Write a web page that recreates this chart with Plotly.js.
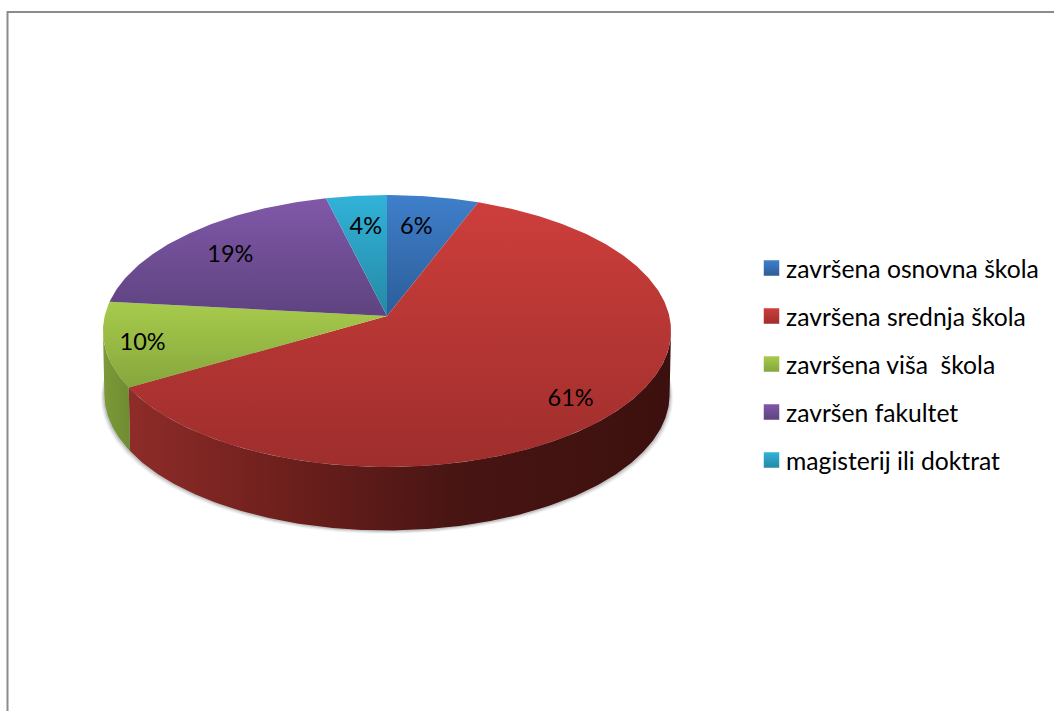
<!DOCTYPE html>
<html>
<head>
<meta charset="utf-8">
<script src="https://cdn.plot.ly/plotly-3.0.1.min.js"></script>
<style>html,body{margin:0;padding:0;background:#fff;overflow:hidden}#chart{width:1054px;height:711px}</style>
</head>
<body>
<div id="chart"></div>
<script>
// ---- data ----
const categories = ['završena osnovna škola', 'završena srednja škola', 'završena viša\u00a0 škola', 'završen fakultet', 'magisterij ili doktrat'];
const values = [5.8, 60.8, 10.1, 19.45, 3.85];

// ---- style ----
const topStart = ['#3f7fcb', '#cd3e3b', '#a7cb4c', '#8058a8', '#32b2d8'];
const topEnd   = ['#2c5d98', '#9e2e2c', '#86a63c', '#5e4380', '#2489a5'];
const wallScales = [
  null,
  [[0, '#8e2c29'], [0.3, '#6c1f1c'], [0.6, '#481513'], [1, '#3c100e']],
  [[0, '#7c9a38'], [1, '#6f8c31']],
  null, null
];
// label placement: radial fraction plus nudge in px
const labelNudgeX = [-4, 25, -48, -15, 1];
const labelNudgeY = [-2, 20, 8, -1, -1];
const font = 'Lato, "Open Sans", sans-serif';

// ---- tilted-disc projection ----
const cx = 387, apexY = 316, a = 282.3, b = 134.3, k = 0.1103, depth = 63.5;
function project(deg, r, sx, dy) {
  const t = deg * Math.PI / 180, X = r * Math.sin(t), Y = r * Math.cos(t), w = 1 + k * Y;
  return [cx + sx * a * X / w, apexY - b * Y / w + dy];
}
function arc(d1, d2, r, sx, dy) {
  const n = Math.max(2, Math.ceil(Math.abs(d2 - d1) * 1.5)), xs = [], ys = [];
  for (let i = 0; i <= n; i++) {
    const p = project(d1 + (d2 - d1) * i / n, r, sx, dy);
    xs.push(p[0]); ys.push(p[1]);
  }
  return [xs, ys];
}

const total = values.reduce((s, v) => s + v, 0);
const starts = [], ends = [];
values.reduce((acc, v, i) => { starts[i] = acc / total * 360; ends[i] = (acc + v) / total * 360; return acc + v; }, 0);

const visFrom = Math.acos(-k) * 180 / Math.PI, visTo = 360 - visFrom;
const traces = [];
const base = {type: 'scatter', mode: 'lines', hoverinfo: 'skip', showlegend: false, line: {width: 0}, fill: 'toself'};

// soft shadow below the disc
[[3.5, 0.05], [2.4, 0.08], [1.3, 0.12]].forEach(([grow, op]) => {
  const s = arc(visFrom - 25, visTo + 25, 1, 0.995 + grow / 282, depth + grow);
  traces.push(Object.assign({}, base, {x: s[0], y: s[1], fillcolor: 'rgba(0,0,0,' + op + ')'}));
});

// side walls
values.forEach((v, i) => {
  const d1 = Math.max(starts[i], visFrom), d2 = Math.min(ends[i], visTo);
  if (d2 <= d1 || !wallScales[i]) return;
  const t = arc(d1, d2, 1, 1, 0), u = arc(d2, d1, 1, 0.995, depth);
  traces.push(Object.assign({}, base, {
    x: t[0].concat(u[0]), y: t[1].concat(u[1]),
    fillgradient: {type: 'horizontal', colorscale: wallScales[i]}
  }));
});

// top faces
values.forEach((v, i) => {
  const t = arc(starts[i], ends[i], 1, 1, 0);
  traces.push(Object.assign({}, base, {
    name: categories[i],
    x: [cx].concat(t[0], [cx]), y: [apexY].concat(t[1], [apexY]),
    fillgradient: {type: 'vertical', colorscale: [[0, topEnd[i]], [1, topStart[i]]]}
  }));
});

// percent labels
const lab = values.map((v, i) => project((starts[i] + ends[i]) / 2, 0.7, 1, 0));
traces.push({
  type: 'scatter', mode: 'text', hoverinfo: 'skip', showlegend: false,
  x: lab.map((p, i) => p[0] + labelNudgeX[i]),
  y: lab.map((p, i) => p[1] + labelNudgeY[i]),
  text: values.map(v => Math.round(v) + '%'), textposition: 'middle center',
  textfont: {family: font, size: 23.5, color: '#000'}
});

// legend drawn as a marker+text column
const legendX = 771.5, legendTop = 268, legendStep = 48;
traces.push({
  type: 'scatter', mode: 'markers', hoverinfo: 'skip', showlegend: false,
  x: categories.map(() => legendX),
  y: categories.map((c, i) => legendTop + i * legendStep),
  marker: {symbol: 'square', size: 15.5, color: topStart, line: {width: 0},
           gradient: {type: 'vertical', color: topEnd}}
});

const annotations = categories.map((c, i) => ({
  x: 784, y: legendTop + i * legendStep, xref: 'x', yref: 'y', text: c, showarrow: false,
  xanchor: 'left', yanchor: 'middle', align: 'left', font: {family: font, size: 24.7, color: '#000'}
}));

const layout = {
  width: 1054, height: 711, margin: {l: 0, r: 0, t: 0, b: 0, pad: 0},
  paper_bgcolor: '#fff', plot_bgcolor: '#fff', showlegend: false,
  xaxis: {visible: false, range: [0, 1054], fixedrange: true},
  yaxis: {visible: false, range: [711, 0], fixedrange: true},
  annotations: annotations,
  shapes: [
    {type: 'line', xref: 'x', yref: 'y', x0: 7.5, x1: 1054, y0: 12, y1: 12, line: {color: '#8c8c8c', width: 2}},
    {type: 'line', xref: 'x', yref: 'y', x0: 7.5, x1: 7.5, y0: 11, y1: 711, line: {color: '#8c8c8c', width: 2}}
  ]
};
Plotly.newPlot('chart', traces, layout, {displayModeBar: false, staticPlot: true});
</script>
</body>
</html>
